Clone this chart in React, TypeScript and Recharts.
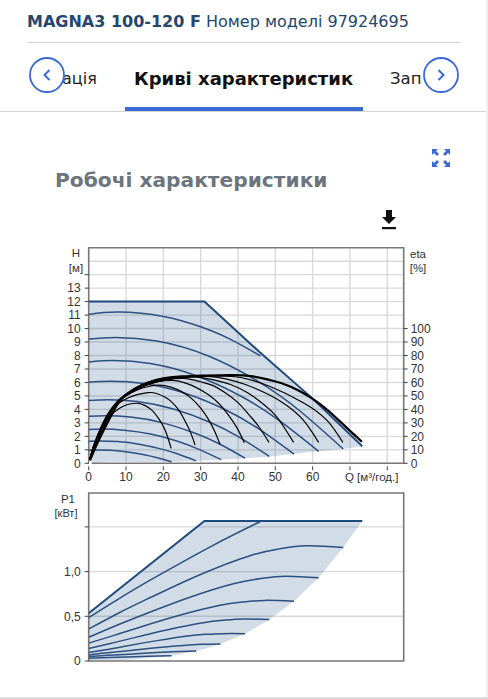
import React from "react";
import { ComposedChart, Line, Area, XAxis, YAxis, CartesianGrid, ReferenceArea } from "recharts";

type P = [number, number];

const xTicks = [0, 10, 20, 30, 40, 50, 60, 70, 80];
const hTicks = [0, 1, 2, 3, 4, 5, 6, 7, 8, 9, 10, 11, 12, 13, 14];
const etaTicks = [0, 10, 20, 30, 40, 50, 60, 70, 80, 90, 100];
const pTicks = [0, 0.5, 1, 1.5];
const pLabels: Record<string, string> = { "0": "0", "0.5": "0,5", "1": "1,0", "1.5": "" };

const areaQ = [0, 5, 10, 15, 22.2, 28.8, 31, 35.5, 42, 46, 48.4, 55, 60, 61.6, 68.2, 73.3];
const areaHLow = [0, 0.12, 0.12, 0.1, 0.11, 0.18, 0.21, 0.27, 0.38, 0.45, 0.49, 0.69, 0.85, 0.89, 1.06, 1.26];
const areaHHigh = [12, 12, 12, 12, 12, 12, 12, 10.86, 9.2, 8.2, 7.6, 6.0, 4.8, 4.38, 2.6, 1.26];

const areaPQ = [0, 10, 22.2, 28.8, 31, 35.3, 41.9, 48.4, 55, 61.6, 68.2, 73.3];
const areaPLow = [0, 0.012, 0.06, 0.112, 0.135, 0.19, 0.306, 0.463, 0.668, 0.93, 1.27, 1.565];
const areaPHigh = [0.534, 0.87, 1.27, 1.49, 1.565, 1.565, 1.565, 1.565, 1.565, 1.565, 1.565, 1.565];

const hEnvelope: P[] = [[0, 12], [31, 12], [46, 8.2], [60, 4.8], [73.3, 1.26]];
const pEnvelope: P[] = [[0, 0.534], [31, 1.565], [73.3, 1.565]];

const hCurve1: P[] = [[0, 0.97], [2.4, 0.99], [5.9, 0.96], [10.4, 0.84], [14.9, 0.64], [18.4, 0.41], [22.2, 0.11]];
const hCurve2: P[] = [[0, 1.64], [3.1, 1.66], [7.7, 1.61], [13.5, 1.42], [19.3, 1.07], [23.9, 0.69], [28.8, 0.18]];
const hCurve3: P[] = [[0, 2.5], [3.8, 2.54], [9.5, 2.46], [16.6, 2.17], [23.8, 1.64], [29.4, 1.05], [35.5, 0.27]];
const hCurve4: P[] = [[0, 3.49], [4.5, 3.53], [11.2, 3.43], [19.6, 3.02], [28, 2.28], [34.8, 1.47], [41.9, 0.38]];
const hCurve5: P[] = [[0, 4.66], [5.2, 4.72], [13, 4.59], [22.7, 4.03], [32.5, 3.05], [40.2, 1.96], [48.4, 0.51]];
const hCurve6: P[] = [[0, 6.01], [5.9, 6.09], [14.7, 5.92], [25.8, 5.2], [36.9, 3.94], [45.7, 2.53], [55, 0.68]];
const hCurve7: P[] = [[0, 7.52], [6.6, 7.62], [16.5, 7.4], [28.8, 6.5], [41.2, 4.92], [51.1, 3.16], [61.6, 0.89]];
const hCurve8: P[] = [[0, 9.22], [7.3, 9.34], [18.25, 9.07], [31.9, 7.98], [45.6, 6.04], [56.6, 3.88], [68.2, 1.06]];
const hCurve9: P[] = [[0, 11.05], [8, 11.22], [20, 10.9], [30, 10.13], [38, 9.2], [46, 7.97]];

const eta1: P[] = [[0, 0], [0.8, 0.85], [1.6, 1.5], [3.2, 2.5], [5, 3.3], [7, 3.85], [9, 4.2], [11, 4.4], [13.3, 4.45], [15, 4.3], [16.9, 3.95], [18.8, 3.3], [20.5, 2.45], [22.1, 1.11]];
const eta2: P[] = [[0, 0], [1, 1.05], [2, 1.8], [4, 3.1], [6, 3.95], [8, 4.45], [10.5, 4.85], [13, 5.1], [16, 5.25], [18.2, 5.18], [20.5, 4.9], [22.2, 4.56], [24, 4.0], [25.6, 3.25], [27.2, 2.35], [28.5, 1.36]];
const eta3: P[] = [[0, 0], [1.25, 1.2], [2.5, 2.15], [5, 3.6], [7.4, 4.45], [10, 5.0], [13, 5.45], [16, 5.7], [19, 5.8], [22, 5.65], [25, 5.3], [27.6, 4.8], [30, 4.1], [32, 3.3], [33.8, 2.35], [35.2, 1.4]];
const eta4: P[] = [[0, 0], [1.45, 1.35], [2.9, 2.35], [5.8, 3.95], [8.7, 4.8], [11.7, 5.35], [15, 5.75], [18.5, 6.05], [22.5, 6.15], [26, 5.95], [29, 5.6], [32, 5.1], [35, 4.4], [37.4, 3.6], [39.7, 2.65], [41.7, 1.53]];
const eta5: P[] = [[0, 0], [1.7, 1.5], [3.3, 2.55], [6.7, 4.25], [10, 5.1], [13.5, 5.6], [17, 5.95], [21, 6.2], [25.5, 6.3], [30, 6.05], [33, 5.8], [36.5, 5.25], [40, 4.5], [42.8, 3.65], [45.5, 2.75], [48.3, 1.55]];
const eta6: P[] = [[0, 0], [1.9, 1.55], [3.8, 2.8], [5.7, 3.8], [7.6, 4.5], [11.4, 5.35], [15, 5.8], [19, 6.1], [23, 6.3], [29, 6.4], [34, 6.15], [38, 5.85], [42.8, 5.2], [47, 4.35], [50.5, 3.4], [54.9, 1.55]];
const eta7: P[] = [[0, 0], [2.1, 1.6], [4.2, 2.9], [6.3, 4.0], [8.4, 4.75], [12.6, 5.55], [16.8, 6.0], [21, 6.25], [25, 6.38], [32, 6.45], [37, 6.25], [42, 5.85], [48.6, 5.05], [53, 4.3], [57.5, 3.2], [61.6, 1.55]];
const eta8: P[] = [[0, 0], [2.3, 1.6], [4.65, 3.05], [7, 4.3], [9.3, 5.0], [14, 5.8], [18.6, 6.22], [23.3, 6.38], [28, 6.44], [35.3, 6.48], [41, 6.35], [48.6, 5.7], [57.5, 4.5], [63.8, 3.2], [68.1, 1.55]];
const eta9: P[] = [[0, 0], [2.5, 1.6], [5, 3.0], [7.5, 4.3], [10, 5.1], [15, 5.9], [20, 6.3], [25, 6.45], [30, 6.5], [38, 6.55], [44, 6.45], [48.6, 6.17], [54, 5.7], [62, 4.4], [68.3, 2.85], [73.2, 1.6]];

const pCurve1: P[] = [[0, 0.03], [5.3, 0.038], [9.7, 0.044], [14, 0.05], [19, 0.056], [22.2, 0.06]];
const pCurve2: P[] = [[0, 0.05], [3.5, 0.06], [6.9, 0.068], [12.6, 0.08], [18.2, 0.095], [21.6, 0.102], [24.6, 0.107], [28.8, 0.112]];
const pCurve3: P[] = [[0, 0.068], [4.3, 0.09], [8.6, 0.107], [15.5, 0.137], [22.5, 0.166], [26.6, 0.178], [30.4, 0.186], [35.3, 0.19]];
const pCurve4: P[] = [[0, 0.095], [5, 0.128], [10.1, 0.168], [18.3, 0.228], [26.5, 0.28], [31.4, 0.298], [35.9, 0.306], [41.9, 0.306]];
const pCurve5: P[] = [[0, 0.14], [5.8, 0.196], [11.7, 0.256], [21.2, 0.35], [30.7, 0.428], [36.3, 0.456], [41.5, 0.47], [48.4, 0.463]];
const pCurve6: P[] = [[0, 0.2], [6.6, 0.284], [13.3, 0.372], [24.1, 0.508], [34.9, 0.62], [41.3, 0.66], [47.2, 0.678], [55, 0.668]];
const pCurve7: P[] = [[0, 0.265], [7.4, 0.397], [14.8, 0.52], [26.9, 0.71], [39, 0.867], [46.1, 0.922], [52.7, 0.948], [61.6, 0.93]];
const pCurve8: P[] = [[0, 0.358], [8.2, 0.54], [16.4, 0.707], [29.8, 0.965], [43.2, 1.178], [51.1, 1.254], [58.4, 1.288], [68.2, 1.27]];
const pCurve9: P[] = [[0, 0.485], [9, 0.72], [18, 0.94], [32.7, 1.28], [46, 1.56]];

const hCurves = [hCurve1, hCurve2, hCurve3, hCurve4, hCurve5, hCurve6, hCurve7, hCurve8, hCurve9];
const etaCurves = [eta1, eta2, eta3, eta4, eta5, eta6, eta7, eta8];
const pCurves = [pCurve1, pCurve2, pCurve3, pCurve4, pCurve5, pCurve6, pCurve7, pCurve8, pCurve9];
const etaAnchor = [{ x: 0, y: 0 }];

const toRows = (pts: P[]) => pts.map(([x, y]) => ({ x, y }));
const zipArea = (q: number[], low: number[], high: number[]) => q.map((x, i) => ({ x, r: [low[i], high[i]] }));

const BLUE = "#2b4f80";
const DARK = "#1f4a7e";
const FILL = "#1f4e86";
const GRID = "#dadada";
const FRAME = "#777777";
const TICK = "#444444";
const ACCENT = "#3a6ad4";
const CHART_FONT = "'Liberation Sans', Arial, sans-serif";
const UI_FONT = "'DejaVu Sans', Verdana, sans-serif";
const XMAX = 84.4;

const XTick = (props: any) => {
  const { x, y, payload } = props;
  const v = payload.value;
  return (
    <g>
      <line x1={x} x2={x} y1={y - 5} y2={y - 1} stroke={TICK} strokeWidth={1} />
      {v <= 60 && <text x={x} y={y + 10} textAnchor="middle" fontSize={12} fill="#333" fontFamily={CHART_FONT}>{v}</text>}
      {v === 70 && <text x={x - 5} y={y + 10} textAnchor="start" fontSize={11.5} fill="#333" fontFamily={CHART_FONT}>Q [м³/год.]</text>}
    </g>
  );
};

const label = (text: string, x: number, y: number, size = 11.5) => (
  <div style={{ position: "absolute", left: x - 40, top: y - 8, width: 80, height: 16, lineHeight: "16px", textAlign: "center", fontFamily: CHART_FONT, fontSize: size, color: "#333" }}>{text}</div>
);

const ui = (text: string, left: number, top: number, size: number, weight: number, color: string) => (
  <div style={{ position: "absolute", left, top, fontFamily: UI_FONT, fontSize: size, fontWeight: weight, color, whiteSpace: "nowrap", lineHeight: "24px" }}>{text}</div>
);

const Circle = ({ cx, dir }: { cx: number; dir: number }) => (
  <svg width={40} height={40} style={{ position: "absolute", left: cx - 20, top: 55 }}>
    <circle cx={20} cy={20} r={17} fill="none" stroke={ACCENT} strokeWidth={1.8} />
    <path d={dir < 0 ? "M22.5 15 L17.5 20 L22.5 25" : "M17.5 15 L22.5 20 L17.5 25"} fill="none" stroke={ACCENT} strokeWidth={2} />
  </svg>
);

export default function App() {
  return (
    <div style={{ position: "absolute", left: 0, top: 0, width: 488, height: 699, background: "#fff", overflow: "hidden" }}>
      <div style={{ position: "absolute", left: 27, top: 10, fontFamily: UI_FONT, fontSize: 16, color: "#25466f", whiteSpace: "nowrap", lineHeight: "24px" }}>
        <b>MAGNA3 100-120 F</b> Номер моделі 97924695
      </div>
      <div style={{ position: "absolute", left: 27, top: 42, width: 434, height: 1, background: "#d3d3d3" }} />
      {ui("ація", 62, 67, 16, 400, "#222")}
      {ui("Криві характеристик", 134, 67, 18, 700, "#111")}
      {ui("Зап", 390, 67, 16.5, 400, "#222")}
      <div style={{ position: "absolute", left: 0, top: 111, width: 488, height: 1, background: "#d3d3d3" }} />
      <div style={{ position: "absolute", left: 125, top: 107, width: 238, height: 4, background: ACCENT }} />
      <div style={{ position: "absolute", left: 486, top: 0, width: 2, height: 699, background: "#f0f0f0" }} />
      <Circle cx={47} dir={-1} />
      <Circle cx={441} dir={1} />
      <svg width={20} height={20} style={{ position: "absolute", left: 431, top: 148 }}>
        <path d="M1 1h6l-2 2 3 3-2 2-3-3-2 2z M19 1h-6l2 2-3 3 2 2 3-3 2 2z M1 19h6l-2-2 3-3-2-2-3 3-2-2z M19 19h-6l2-2-3-3 2-2 3 3 2-2z" fill={ACCENT} />
      </svg>
      {ui("Робочі характеристики", 55, 168, 20.2, 700, "#6c757d")}
      <svg width={18} height={22} style={{ position: "absolute", left: 380, top: 209 }}>
        <path d="M6 1h6v7h4l-7 7-7-7h4z" fill="#111" />
        <rect x={2} y={18} width={14} height={2.2} fill="#111" />
      </svg>

      {label("H", 76, 253)}
      {label("[м]", 76, 268)}
      {label("eta", 418, 254)}
      {label("[%]", 418, 268)}
      {label("P1", 68, 499)}
      {label("[кВт]", 66, 513, 11)}

      <div style={{ position: "absolute", left: 0, top: 0 }}>
        <ComposedChart width={488} height={490} margin={{ top: 247.7, right: 0, bottom: 6.7, left: 0 }}>
          <CartesianGrid yAxisId="h" stroke={GRID} strokeWidth={1.4} horizontalValues={[1, 2, 3, 4, 5, 6, 7, 8, 9, 10, 11, 12, 13, 14, 15]} verticalValues={[10, 20, 30, 40, 50, 60, 70, 80]} />
          <XAxis dataKey="x" type="number" domain={[0, XMAX]} ticks={xTicks} axisLine={false} tickLine={false} height={20} tick={<XTick />} interval={0} allowDataOverflow />
          <YAxis yAxisId="h" type="number" domain={[0, 16]} ticks={hTicks} width={88.7} interval={0} axisLine={false} tickSize={4} tickMargin={4} tickLine={{ stroke: TICK }}
            tick={{ fontSize: 12, fill: "#333", fontFamily: CHART_FONT }} tickFormatter={(v: number) => (v === 14 ? "" : String(v))} />
          <YAxis yAxisId="eta" orientation="right" type="number" domain={[0, 160]} ticks={etaTicks} width={84.3} interval={0} axisLine={false} tickSize={4} tickMargin={3} tickLine={{ stroke: TICK }}
            tick={{ fontSize: 12, fill: "#333", fontFamily: CHART_FONT }} />
          <Line yAxisId="eta" data={etaAnchor} dataKey="y" stroke="none" dot={false} activeDot={false} isAnimationActive={false} />
          <Area yAxisId="h" data={zipArea(areaQ, areaHLow, areaHHigh)} dataKey="r" type="linear" fill={FILL} fillOpacity={0.2} stroke="none" isAnimationActive={false} dot={false} activeDot={false} />
          {hCurves.map((c, i) => (
            <Line key={"h" + i} yAxisId="h" data={toRows(c)} dataKey="y" type="natural" stroke={BLUE} strokeWidth={1.5} dot={false} activeDot={false} isAnimationActive={false} />
          ))}
          <Line yAxisId="h" data={toRows(hEnvelope)} dataKey="y" type="linear" stroke={DARK} strokeWidth={2} dot={false} activeDot={false} isAnimationActive={false} />
          {etaCurves.map((c, i) => (
            <Line key={"e" + i} yAxisId="h" data={toRows(c)} dataKey="y" type="natural" stroke="#000" strokeWidth={1.2} dot={false} activeDot={false} isAnimationActive={false} />
          ))}
          <Line yAxisId="h" data={toRows(eta9)} dataKey="y" type="natural" stroke="#000" strokeWidth={2.2} dot={false} activeDot={false} isAnimationActive={false} />
          <ReferenceArea yAxisId="h" x1={0} x2={XMAX} y1={0} y2={16} fill="none" stroke={FRAME} strokeWidth={1.6} ifOverflow="visible" />
        </ComposedChart>
      </div>

      <div style={{ position: "absolute", left: 0, top: 480 }}>
        <ComposedChart width={488} height={200} margin={{ top: 13, right: 0, bottom: 19, left: 0 }}>
          <CartesianGrid yAxisId="p" stroke={GRID} strokeWidth={1.4} horizontalValues={[0.5, 1, 1.5]} verticalValues={[10, 20, 30, 40, 50, 60, 70, 80]} />
          <XAxis dataKey="x" type="number" domain={[0, XMAX]} ticks={xTicks} axisLine={false} tickLine={false} tick={false} height={0} allowDataOverflow />
          <YAxis yAxisId="p" type="number" domain={[0, 1.879]} ticks={pTicks} width={88.7} interval={0} axisLine={false} tickSize={4} tickMargin={4} tickLine={{ stroke: TICK }}
            tick={{ fontSize: 12, fill: "#333", fontFamily: CHART_FONT }} tickFormatter={(v: number) => pLabels[String(v)]} />
          <YAxis yAxisId="blank" orientation="right" type="number" domain={[0, 1]} tick={false} tickLine={false} axisLine={false} width={84.3} />
          <Area yAxisId="p" data={zipArea(areaPQ, areaPLow, areaPHigh)} dataKey="r" type="linear" fill={FILL} fillOpacity={0.2} stroke="none" isAnimationActive={false} dot={false} activeDot={false} />
          {pCurves.map((c, i) => (
            <Line key={"p" + i} yAxisId="p" data={toRows(c)} dataKey="y" type="natural" stroke={BLUE} strokeWidth={1.5} dot={false} activeDot={false} isAnimationActive={false} />
          ))}
          <Line yAxisId="p" data={toRows(pEnvelope)} dataKey="y" type="linear" stroke={DARK} strokeWidth={2} dot={false} activeDot={false} isAnimationActive={false} />
          <ReferenceArea yAxisId="p" x1={0} x2={XMAX} y1={0} y2={1.879} fill="none" stroke={FRAME} strokeWidth={1.6} ifOverflow="visible" />
        </ComposedChart>
      </div>
      <div style={{ position: "absolute", left: 0, top: 697, width: 488, height: 2, background: "#dddddd" }} />
    </div>
  );
}
